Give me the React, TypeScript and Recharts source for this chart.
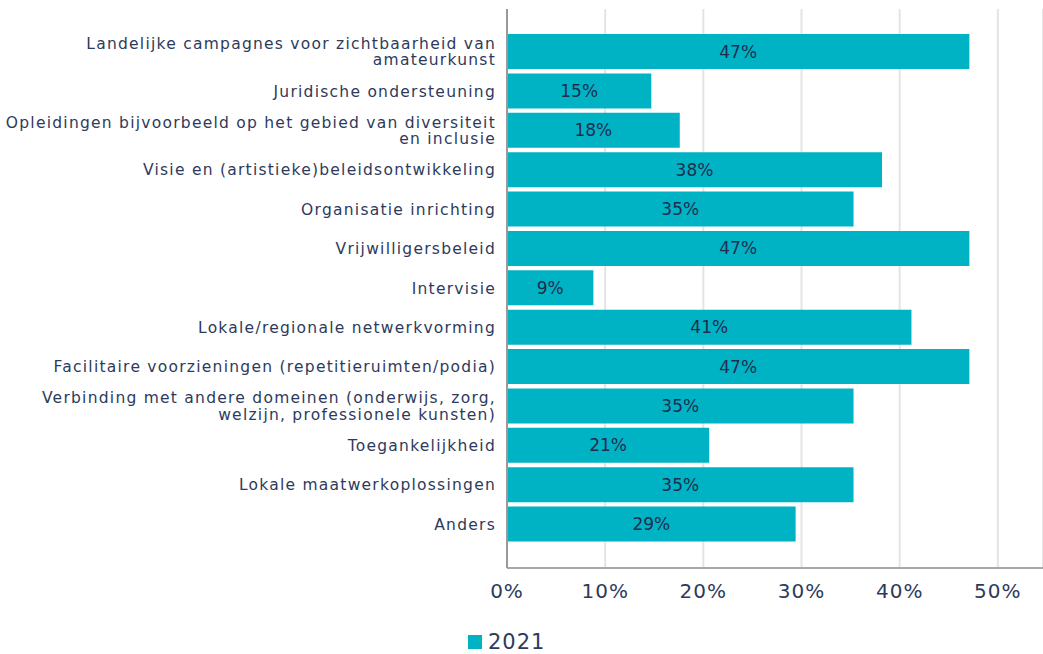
import React from "react";
import {
  BarChart,
  Bar,
  XAxis,
  YAxis,
  CartesianGrid,
  Legend,
  LabelList,
} from "recharts";

const categories = [
  "Landelijke campagnes voor zichtbaarheid van\namateurkunst",
  "Juridische ondersteuning",
  "Opleidingen bijvoorbeeld op het gebied van diversiteit\nen inclusie",
  "Visie en (artistieke)beleidsontwikkeling",
  "Organisatie inrichting",
  "Vrijwilligersbeleid",
  "Intervisie",
  "Lokale/regionale netwerkvorming",
  "Facilitaire voorzieningen (repetitieruimten/podia)",
  "Verbinding met andere domeinen (onderwijs, zorg,\nwelzijn, professionele kunsten)",
  "Toegankelijkheid",
  "Lokale maatwerkoplossingen",
  "Anders",
];

const values2021 = [47.1, 14.7, 17.6, 38.2, 35.3, 47.1, 8.8, 41.2, 47.1, 35.3, 20.6, 35.3, 29.4];

const xTicks = [0, 10, 20, 30, 40, 50];

const data = categories.map((name, i) => ({ name, v2021: values2021[i] }));

const TEXT = "#2e3a5c";
const BAR = "#00b3c4";
const FONT = "'DejaVu Sans', Verdana, sans-serif";

function CategoryTick({ x, y, payload }: any) {
  const lines = String(payload.value).split("\n");
  const lh = 16.5;
  const start = -((lines.length - 1) * lh) / 2;
  return (
    <text
      x={x}
      y={y}
      textAnchor="end"
      fill={TEXT}
      fontSize={15.5}
      fontFamily={FONT}
      style={{ letterSpacing: "1.25px" }}
    >
      {lines.map((l, i) => (
        <tspan key={i} x={x} dy={i === 0 ? start + 5.5 : lh}>
          {l}
        </tspan>
      ))}
    </text>
  );
}

function LegendBox() {
  return (
    <div style={{ display: "flex", alignItems: "center", fontFamily: FONT, color: TEXT, fontSize: 21, letterSpacing: "1px" }}>
      <span style={{ display: "inline-block", width: 14, height: 14, background: BAR, marginRight: 6 }} />
      <span>2021</span>
    </div>
  );
}

export default function App() {
  return (
    <div style={{ position: "absolute", left: 0, top: 0, background: "#fff" }}>
      <BarChart
        width={1043}
        height={654}
        data={data}
        layout="vertical"
        margin={{ top: 9, right: 0, bottom: 20, left: 0 }}
      >
        <CartesianGrid horizontal={false} stroke="#e4e4e4" strokeWidth={2} />
        <XAxis
          type="number"
          domain={[0, 54.6]}
          ticks={xTicks}
          allowDataOverflow
          tickFormatter={(v) => `${v}%`}
          tickLine={false}
          tickSize={0}
          tickMargin={16}
          height={40}
          axisLine={{ stroke: "#a8a8a8", strokeWidth: 2 }}
          tick={{ fill: TEXT, fontSize: 20, fontFamily: FONT, letterSpacing: "1px" } as any}
        />
        <YAxis
          type="category"
          dataKey="name"
          width={507}
          tickLine={false}
          tickSize={0}
          tickMargin={11}
          interval={0}
          padding={{ top: 23, bottom: 24 }}
          axisLine={{ stroke: "#999999", strokeWidth: 2 }}
          tick={<CategoryTick />}
        />
        <Legend
          verticalAlign="bottom"
          content={<LegendBox />}
          wrapperStyle={{ left: 468, bottom: -2, width: "auto", height: 26 }}
        />
        <Bar dataKey="v2021" name="2021" fill={BAR} barSize={35} isAnimationActive={false}>
          <LabelList
            dataKey="v2021"
            position="center"
            formatter={(v: any) => `${Math.round(Number(v))}%`}
            fill="#1f2d4f"
            fontSize={17}
            fontFamily={FONT}
          />
        </Bar>
      </BarChart>
    </div>
  );
}
